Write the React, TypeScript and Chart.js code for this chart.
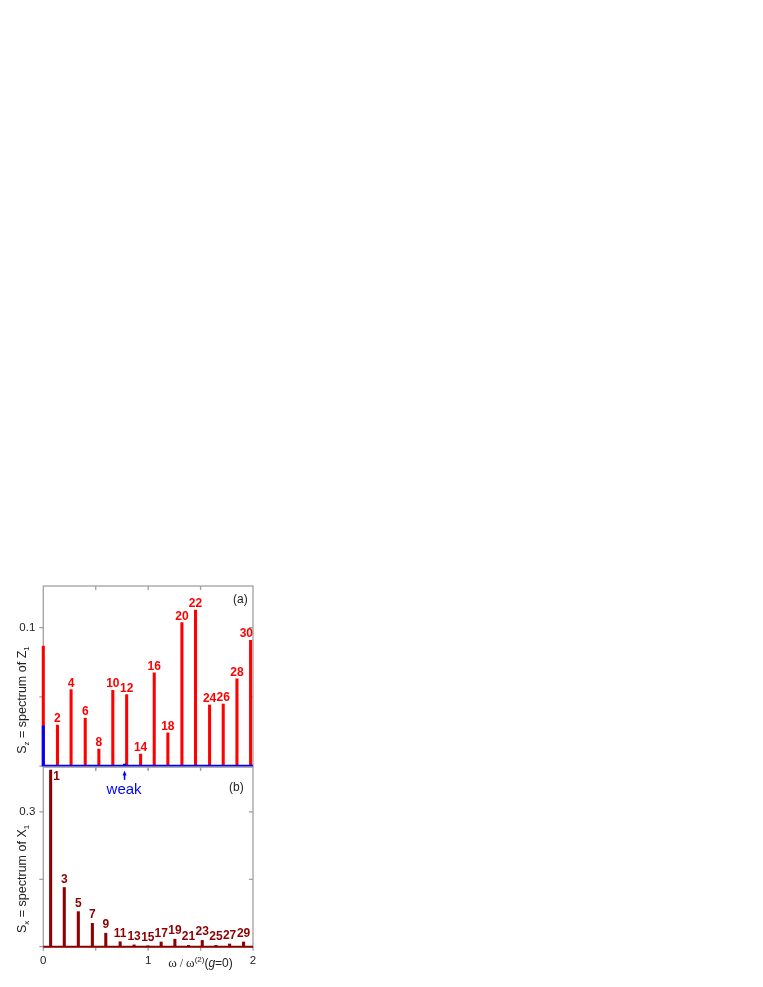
import React, { useEffect, useRef } from 'react';
import { Chart, registerables } from 'chart.js';

Chart.register(...registerables);

// ---------- data ----------
const evenLabels = ['', '2', '4', '6', '8', '10', '12', '14', '16', '18', '20', '22', '24', '26', '28', '30'];
const evenOmega = [0, 0.135, 0.265, 0.4, 0.53, 0.663, 0.795, 0.928, 1.058, 1.188, 1.322, 1.452, 1.586, 1.716, 1.847, 1.977];
const szValues = [0.0866, 0.0296, 0.0552, 0.0346, 0.0123, 0.0547, 0.0516, 0.0087, 0.0673, 0.024, 0.1036, 0.1126, 0.0441, 0.0448, 0.063, 0.0908];

const weakOmega = [0, 0.775];
const weakValues = [0.029, 0.0015];

const oddLabels = ['1', '3', '5', '7', '9', '11', '13', '15', '17', '19', '21', '23', '25', '27', '29'];
const oddOmega = [0.07, 0.2, 0.334, 0.468, 0.596, 0.733, 0.866, 0.997, 1.124, 1.255, 1.385, 1.516, 1.647, 1.777, 1.91];
const sxValues = [0.393, 0.1317, 0.078, 0.052, 0.03, 0.011, 0.004, 0.002, 0.0105, 0.0165, 0.003, 0.014, 0.003, 0.006, 0.0105];

const xTickLabels = ['0', '1', '2'];
const xTickValues = [0, 1, 2];
const szTickLabel = '0.1';
const szTickValue = 0.1;
const sxTickLabel = '0.3';
const sxTickValue = 0.3;
const szMinorTicks = [0, 0.05, 0.1];
const sxMinorTicks = [0, 0.15, 0.3];
const xMinorTicks = [0.5, 1, 1.5];

// ---------- styles ----------
const RED = '#ff0000';
const DARK_RED = '#8b0000';
const BLUE = '#0000ff';
const FRAME = '#a0a0a0';
const TEXT = '#222222';
const SANS = "Arial, 'Liberation Sans', Helvetica, sans-serif";
const SERIF = "'Times New Roman', 'Liberation Serif', 'DejaVu Serif', serif";

type Part = { t: string; font: string; dy?: number };

function drawParts(ctx: CanvasRenderingContext2D, parts: Part[], cx: number, baseline: number) {
  let w = 0;
  for (const p of parts) {
    ctx.font = p.font;
    w += ctx.measureText(p.t).width;
  }
  let x = cx - w / 2;
  ctx.textAlign = 'left';
  ctx.textBaseline = 'alphabetic';
  for (const p of parts) {
    ctx.font = p.font;
    ctx.fillText(p.t, x, baseline + (p.dy || 0));
    x += ctx.measureText(p.t).width;
  }
}

function framePlugin(yTicks: number[], xTop: number[], xBottom: number[]) {
  return {
    id: 'frame',
    beforeDatasetsDraw(chart: any) {
      const { ctx, chartArea: a, scales } = chart;
      const xs = scales.x;
      const ys = scales.y;
      const T = 4;
      ctx.save();
      ctx.strokeStyle = FRAME;
      ctx.lineWidth = 1.3;
      ctx.strokeRect(a.left, a.top, a.right - a.left, a.bottom - a.top);
      ctx.beginPath();
      for (const v of yTicks) {
        const py = ys.getPixelForValue(v);
        ctx.moveTo(a.left - T, py);
        ctx.lineTo(a.left, py);
        ctx.moveTo(a.right, py);
        ctx.lineTo(a.right - T, py);
      }
      for (const v of xTop) {
        const px = xs.getPixelForValue(v);
        ctx.moveTo(px, a.top);
        ctx.lineTo(px, a.top + T);
      }
      for (const v of xBottom) {
        const px = xs.getPixelForValue(v);
        ctx.moveTo(px, a.bottom);
        ctx.lineTo(px, a.bottom + T);
      }
      ctx.stroke();
      ctx.restore();
    },
  };
}

function barLabelPlugin(datasetIndex: number, labels: string[], color: string, gap: number) {
  return {
    id: 'barLabels',
    afterDatasetsDraw(chart: any) {
      const { ctx, chartArea: a } = chart;
      const meta = chart.getDatasetMeta(datasetIndex);
      ctx.save();
      ctx.fillStyle = color;
      ctx.font = `bold 12px ${SANS}`;
      meta.data.forEach((el: any, i: number) => {
        const txt = labels[i];
        if (!txt) return;
        const w = ctx.measureText(txt).width;
        const bx = el.x;
        const top = el.y;
        if (top - gap - 9 < a.top) {
          ctx.textAlign = 'left';
          ctx.textBaseline = 'top';
          ctx.fillText(txt, bx + 2.5, top + 1);
          return;
        }
        let cx = bx;
        if (cx + w / 2 > a.right) cx = a.right - w / 2;
        ctx.textAlign = 'center';
        ctx.textBaseline = 'alphabetic';
        ctx.fillText(txt, cx, top - gap);
      });
      ctx.restore();
    },
  };
}

function yTitle(ctx: CanvasRenderingContext2D, cx: number, cy: number, sub: string, varName: string) {
  ctx.save();
  ctx.fillStyle = TEXT;
  ctx.translate(cx, cy);
  ctx.rotate(-Math.PI / 2);
  drawParts(
    ctx,
    [
      { t: 'S', font: `12.5px ${SANS}` },
      { t: sub, font: `8px ${SANS}`, dy: 3 },
      { t: ' = spectrum of ' + varName, font: `12.5px ${SANS}` },
      { t: '1', font: `8px ${SANS}`, dy: 3 },
    ],
    0,
    4.4
  );
  ctx.restore();
}

const topTextPlugin = {
  id: 'topText',
  afterDraw(chart: any) {
    const { ctx, chartArea: a } = chart;
    ctx.save();
    ctx.fillStyle = TEXT;
    ctx.font = `12px ${SANS}`;
    ctx.textAlign = 'left';
    ctx.textBaseline = 'alphabetic';
    ctx.fillText('(a)', a.right - 20, a.top + 17);
    ctx.restore();
    yTitle(ctx, 22, a.top + 114, 'z', 'Z');
  },
};

const bottomTextPlugin = {
  id: 'bottomText',
  afterDraw(chart: any) {
    const { ctx, chartArea: a, scales } = chart;
    ctx.save();
    ctx.fillStyle = TEXT;
    ctx.font = `12px ${SANS}`;
    ctx.textAlign = 'left';
    ctx.textBaseline = 'alphabetic';
    ctx.fillText('(b)', a.right - 24, a.top + 24);

    // weak marker
    const px = scales.x.getPixelForValue(weakOmega[1]);
    ctx.strokeStyle = BLUE;
    ctx.fillStyle = BLUE;
    ctx.lineWidth = 1.5;
    ctx.beginPath();
    ctx.moveTo(px, a.top + 13);
    ctx.lineTo(px, a.top + 7);
    ctx.stroke();
    ctx.beginPath();
    ctx.moveTo(px, a.top + 3.5);
    ctx.lineTo(px - 2, a.top + 8.5);
    ctx.lineTo(px + 2, a.top + 8.5);
    ctx.closePath();
    ctx.fill();
    ctx.font = `15px ${SANS}`;
    ctx.fillText('weak', px - 18, a.top + 27);

    // x title
    ctx.fillStyle = TEXT;
    drawParts(
      ctx,
      [
        { t: 'ω', font: `13px ${SERIF}` },
        { t: ' / ', font: `12px ${SERIF}` },
        { t: 'ω', font: `13px ${SERIF}` },
        { t: '(2)', font: `8px ${SANS}`, dy: -5 },
        { t: '(', font: `12px ${SANS}` },
        { t: 'g', font: `italic 12px ${SANS}` },
        { t: '=0)', font: `12px ${SANS}` },
      ],
      200.5,
      a.bottom + 20
    );
    ctx.restore();
    yTitle(ctx, 22, a.top + 112, 'x', 'X');
  },
};

const tickFont = { family: SANS, size: 11.5 };

function makeTop(canvas: HTMLCanvasElement) {
  return new Chart(canvas, {
    type: 'bar',
    data: {
      datasets: [
        {
          type: 'line',
          data: [{ x: 0, y: 0 }, { x: 2, y: 0 }],
          borderColor: BLUE,
          borderWidth: 2.5,
          pointRadius: 0,
          order: 0,
          clip: false,
        } as any,
        {
          type: 'bar',
          data: weakOmega.map((x, i) => ({ x, y: weakValues[i] })),
          backgroundColor: BLUE,
          barThickness: 2.4,
          order: 1,
          clip: false,
          grouped: false,
        } as any,
        {
          type: 'bar',
          data: evenOmega.map((x, i) => ({ x, y: szValues[i] })),
          backgroundColor: RED,
          barThickness: 2.4,
          order: 2,
          clip: false,
          grouped: false,
        } as any,
      ],
    },
    options: {
      animation: false,
      responsive: false,
      devicePixelRatio: 1,
      events: [],
      layout: { padding: { top: 16, right: 17, left: 0, bottom: 4 } },
      plugins: { legend: { display: false }, tooltip: { enabled: false } },
      scales: {
        x: {
          type: 'linear',
          min: 0,
          max: 2,
          offset: false,
          grid: { display: false, drawTicks: false },
          border: { display: false },
          ticks: { display: false },
          afterFit: (s: any) => {
            s.height = 0;
          },
        },
        y: {
          type: 'linear',
          min: 0,
          max: 0.13,
          grid: { display: false, drawTicks: false },
          border: { display: false },
          ticks: {
            stepSize: 0.05,
            autoSkip: false,
            padding: 8,
            color: TEXT,
            font: tickFont,
            callback: (v: any) => (Math.abs(Number(v) - szTickValue) < 1e-9 ? szTickLabel : ''),
          },
          afterFit: (s: any) => {
            s.width = 43.3;
          },
        },
      },
    } as any,
    plugins: [framePlugin(szMinorTicks, xMinorTicks, xMinorTicks), barLabelPlugin(2, evenLabels, RED, 3), topTextPlugin],
  });
}

function makeBottom(canvas: HTMLCanvasElement) {
  return new Chart(canvas, {
    type: 'bar',
    data: {
      datasets: [
        {
          type: 'bar',
          data: oddOmega.map((x, i) => ({ x, y: sxValues[i] })),
          backgroundColor: DARK_RED,
          barThickness: 2.4,
          order: 1,
          clip: false,
          grouped: false,
        } as any,
        {
          type: 'line',
          data: [{ x: 0, y: 0 }, { x: 2, y: 0 }],
          borderColor: DARK_RED,
          borderWidth: 2,
          pointRadius: 0,
          order: 0,
          clip: false,
        } as any,
      ],
    },
    options: {
      animation: false,
      responsive: false,
      devicePixelRatio: 1,
      events: [],
      layout: { padding: { top: 10, right: 17, left: 0, bottom: 0 } },
      plugins: { legend: { display: false }, tooltip: { enabled: false } },
      scales: {
        x: {
          type: 'linear',
          min: 0,
          max: 2,
          offset: false,
          grid: { display: false, drawTicks: false },
          border: { display: false },
          ticks: {
            stepSize: 0.5,
            autoSkip: false,
            maxRotation: 0,
            padding: 7,
            color: TEXT,
            font: tickFont,
            callback: (v: any) => {
              const idx = xTickValues.findIndex((t) => Math.abs(t - Number(v)) < 1e-9);
              return idx >= 0 ? xTickLabels[idx] : '';
            },
          },
          afterFit: (s: any) => {
            s.height = 40.3;
          },
        },
        y: {
          type: 'linear',
          min: 0,
          max: 0.4,
          grid: { display: false, drawTicks: false },
          border: { display: false },
          ticks: {
            stepSize: 0.15,
            autoSkip: false,
            padding: 8,
            color: TEXT,
            font: tickFont,
            callback: (v: any) => (Math.abs(Number(v) - sxTickValue) < 1e-9 ? sxTickLabel : ''),
          },
          afterFit: (s: any) => {
            s.width = 43.3;
          },
        },
      },
    } as any,
    plugins: [framePlugin(sxMinorTicks, xMinorTicks, [0, ...xMinorTicks, 2]), barLabelPlugin(0, oddLabels, DARK_RED, 5), bottomTextPlugin],
  });
}

export default function App() {
  const topRef = useRef<HTMLCanvasElement>(null);
  const botRef = useRef<HTMLCanvasElement>(null);

  useEffect(() => {
    const a = makeTop(topRef.current as HTMLCanvasElement);
    const b = makeBottom(botRef.current as HTMLCanvasElement);
    return () => {
      a.destroy();
      b.destroy();
    };
  }, []);

  return (
    <div style={{ position: 'absolute', left: 0, top: 0, width: 763, height: 987, background: '#ffffff' }}>
      <canvas
        ref={topRef}
        width={270}
        height={211}
        style={{ position: 'absolute', left: 0, top: 570, width: 270, height: 211 }}
      />
      <canvas
        ref={botRef}
        width={270}
        height={235}
        style={{ position: 'absolute', left: 0, top: 752, width: 270, height: 235 }}
      />
    </div>
  );
}
